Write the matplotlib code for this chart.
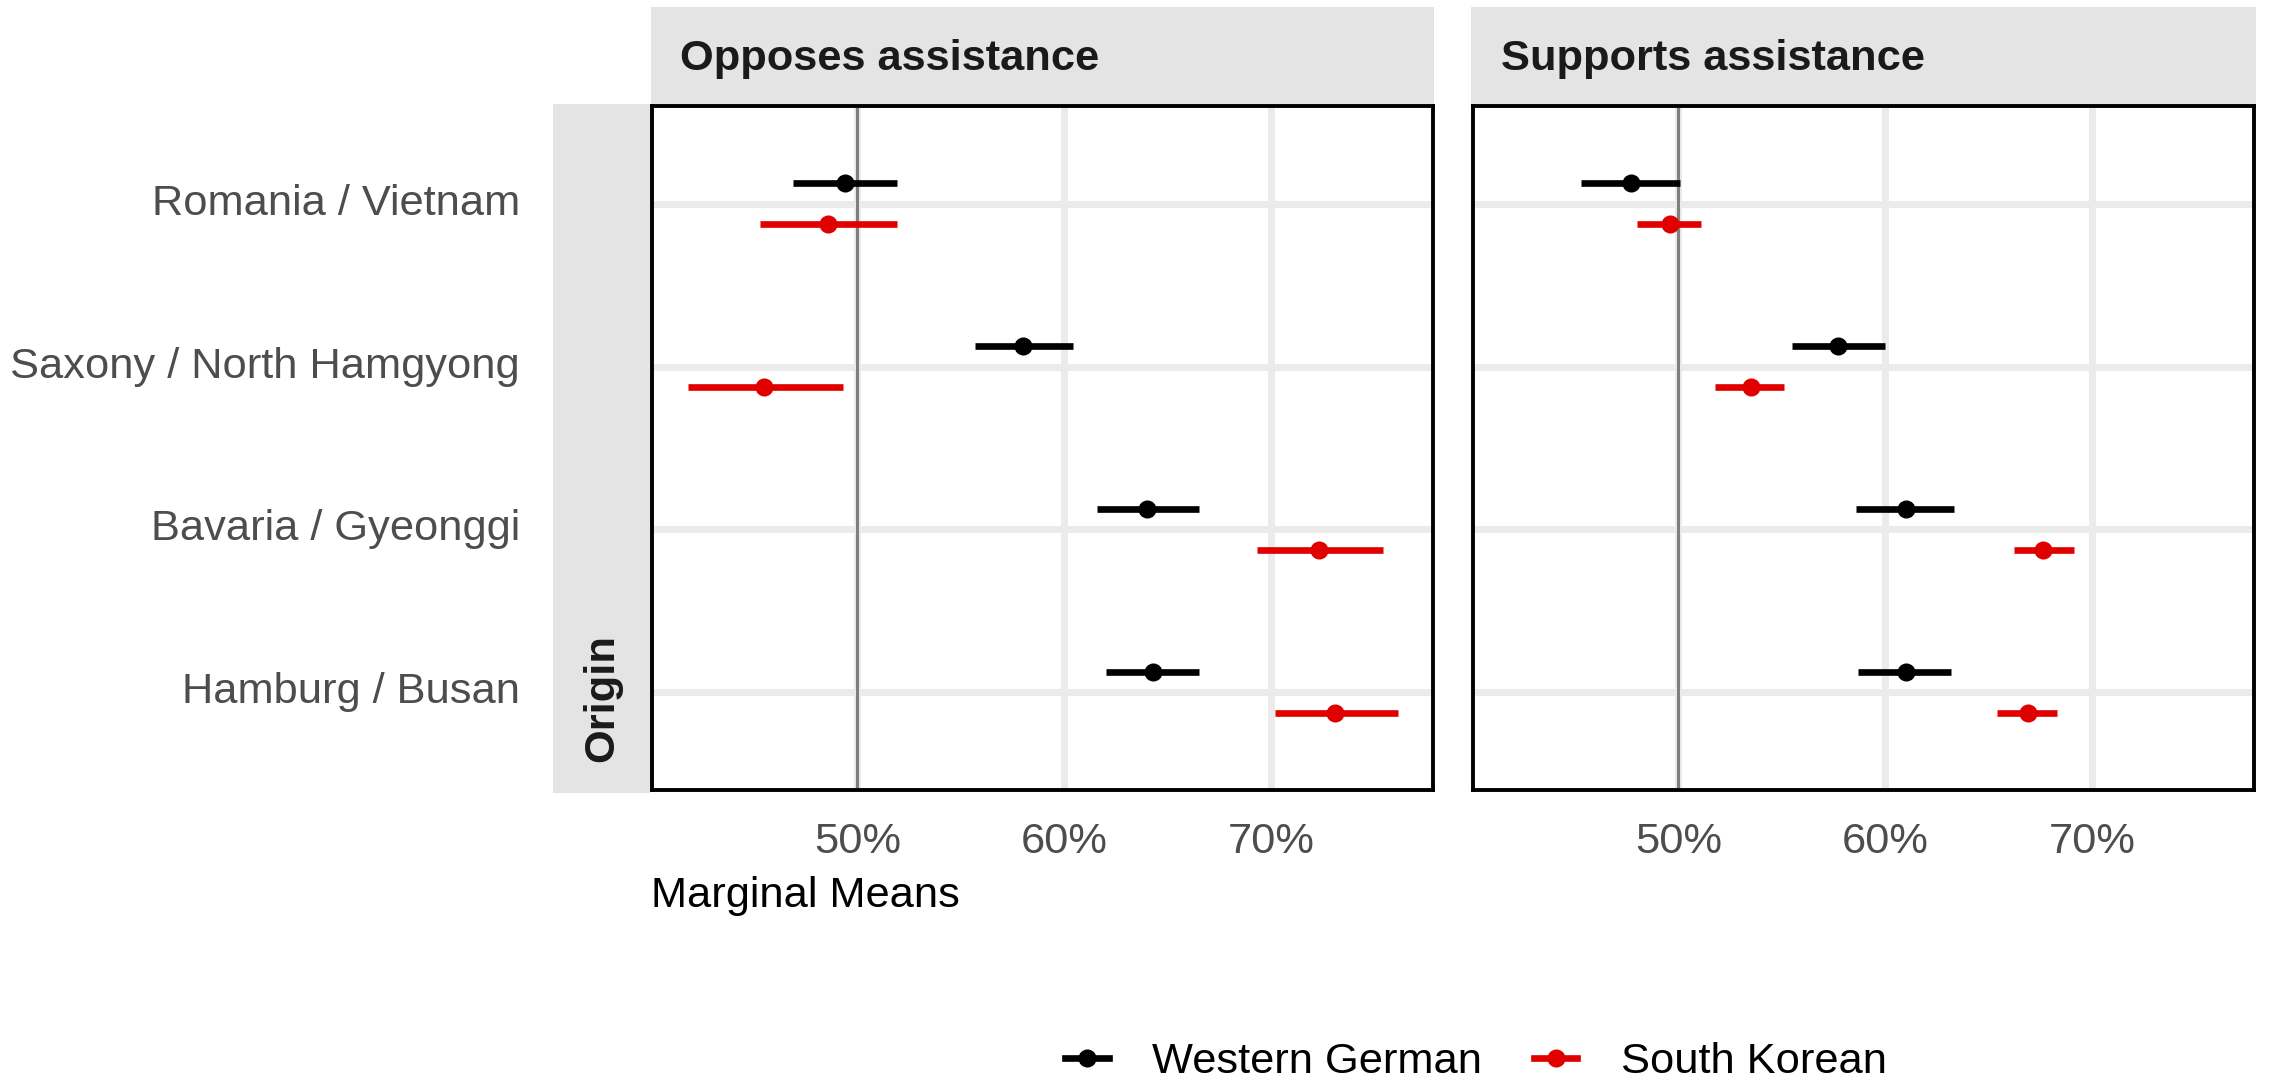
import matplotlib
matplotlib.use("Agg")
import matplotlib.pyplot as plt
from matplotlib.patches import Rectangle
from matplotlib.lines import Line2D
import numpy as np

plt.rcParams['font.family'] = ['Liberation Sans', 'DejaVu Sans']

# ---------------- data ----------------
origins = ["Romania / Vietnam", "Saxony / North Hamgyong",
           "Bavaria / Gyeonggi", "Hamburg / Busan"]
panels = ["Opposes assistance", "Supports assistance"]
groups = ["Western German", "South Korean"]
group_colors = ["#000000", "#E00000"]

# Opposes assistance
opp_wg_est = [49.4, 58.0, 64.0, 64.3]
opp_wg_lo = [46.9, 55.7, 61.6, 62.0]
opp_wg_hi = [51.9, 60.4, 66.5, 66.5]
opp_sk_est = [48.6, 45.5, 72.3, 73.1]
opp_sk_lo = [45.3, 41.8, 69.3, 70.2]
opp_sk_hi = [51.9, 49.3, 75.4, 76.1]

# Supports assistance
sup_wg_est = [47.7, 57.7, 61.0, 61.0]
sup_wg_lo = [45.3, 55.5, 58.6, 58.7]
sup_wg_hi = [50.1, 60.0, 63.3, 63.2]
sup_sk_est = [49.6, 53.5, 67.6, 66.9]
sup_sk_lo = [48.0, 51.8, 66.2, 65.4]
sup_sk_hi = [51.1, 55.1, 69.1, 68.3]

xticks = [50, 60, 70]
xticklabels = ["50%", "60%", "70%"]

panel_data = [
    [(opp_wg_est, opp_wg_lo, opp_wg_hi), (opp_sk_est, opp_sk_lo, opp_sk_hi)],
    [(sup_wg_est, sup_wg_lo, sup_wg_hi), (sup_sk_est, sup_sk_lo, sup_sk_hi)],
]

# ---------------- layout ----------------
W, H = 2272, 1086
DPI = 200
fig = plt.figure(figsize=(W / DPI, H / DPI), dpi=DPI)
fig.patch.set_facecolor("white")

FS = 15.6
STRIP = "#E4E4E4"
GRID = "#EBEBEB"


def fx(px):
    return px / W


def fy(py):
    return 1 - py / H


panel_px = [(652, 1433), (1473, 2254)]
top_px, bot_px = 106, 790

# x-limits: data range with 5% expansion (shared)
all_lo = min(min(opp_wg_lo), min(opp_sk_lo), min(sup_wg_lo), min(sup_sk_lo))
all_hi = max(max(opp_wg_hi), max(opp_sk_hi), max(sup_wg_hi), max(sup_sk_hi))
rng = all_hi - all_lo
xlim = (all_lo - 0.05 * rng, all_hi + 0.05 * rng)

n = len(origins)
ypos = np.arange(n, 0, -1)  # Romania top
dodge = [0.125, -0.125]

# strips (figure-level patches)
fig.patches.append(Rectangle((fx(651), fy(104)), fx(1434) - fx(651), fy(7) - fy(104),
                             transform=fig.transFigure, facecolor=STRIP, edgecolor="none", zorder=0))
fig.patches.append(Rectangle((fx(1471), fy(104)), fx(2256) - fx(1471), fy(7) - fy(104),
                             transform=fig.transFigure, facecolor=STRIP, edgecolor="none", zorder=0))
fig.patches.append(Rectangle((fx(553), fy(793)), fx(650) - fx(553), fy(104) - fy(793),
                             transform=fig.transFigure, facecolor=STRIP, edgecolor="none", zorder=0))

axes = []
for pi, (x0, x1) in enumerate(panel_px):
    ax = fig.add_axes([fx(x0), fy(bot_px), fx(x1) - fx(x0), fy(top_px) - fy(bot_px)])
    axes.append(ax)
    ax.set_xlim(*xlim)
    ax.set_ylim(0.4, n + 0.6)
    ax.set_facecolor("white")
    for x in xticks:
        ax.axvline(x, color=GRID, lw=2.5, zorder=0)
    for y in ypos:
        ax.axhline(y, color=GRID, lw=2.5, zorder=0)
    ax.axvline(50, color="#7F7F7F", lw=1.1, zorder=1)
    for gi, (est, lo, hi) in enumerate(panel_data[pi]):
        yy = ypos + dodge[gi]
        ax.hlines(yy, lo, hi, color=group_colors[gi], lw=2.4, zorder=3)
        ax.plot(est, yy, 'o', color=group_colors[gi], markersize=6.5, zorder=4,
                markeredgewidth=0)
    ax.set_xticks(xticks)
    ax.set_xticklabels(xticklabels)
    ax.tick_params(axis='x', length=0, pad=11.6, labelsize=FS, labelcolor="#4D4D4D")
    ax.set_yticks(ypos)
    if pi == 0:
        ax.set_yticklabels(origins)
        ax.tick_params(axis='y', length=0, pad=47.5, labelsize=FS, labelcolor="#4D4D4D")
        for lab in ax.get_yticklabels():
            lab.set_va('center')
    else:
        ax.set_yticklabels([])
        ax.tick_params(axis='y', length=0)
    for s in ax.spines.values():
        s.set_color("black")
        s.set_linewidth(1.4)
        s.set_zorder(5)

# strip titles
fig.text(fx(680), fy(70), panels[0], fontsize=FS, fontweight='bold', color="#1A1A1A",
         ha='left', va='baseline')
fig.text(fx(1501), fy(70), panels[1], fontsize=FS, fontweight='bold', color="#1A1A1A",
         ha='left', va='baseline')

# facet-row label
fig.text(fx(602), fy(762), "Origin", fontsize=FS, fontweight='bold', color="#1A1A1A",
         rotation=90, ha='center', va='bottom')

# x axis title
fig.text(fx(651), fy(907), "Marginal Means", fontsize=FS, color="black",
         ha='left', va='baseline')

# legend
handles = [Line2D([], [], color=c, lw=2.4, marker='o', markersize=6.5, markeredgewidth=0)
           for c in group_colors]
fig.legend(handles, groups, loc='center', bbox_to_anchor=(fx(1476), fy(1062)),
           ncol=2, frameon=False, fontsize=FS, handlelength=1.0, handletextpad=1.0,
           columnspacing=1.2, numpoints=1, borderaxespad=0, borderpad=0)

fig.savefig("out.png", dpi=DPI, facecolor="white")
